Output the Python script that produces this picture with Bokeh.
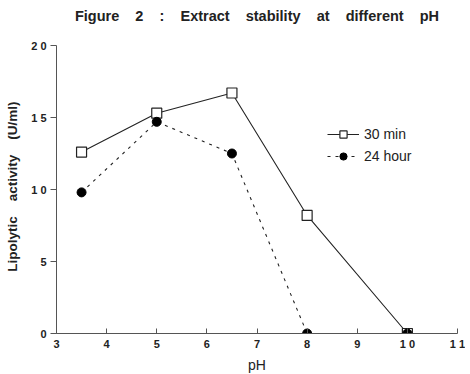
from bokeh.plotting import figure
from bokeh.models import Legend, LegendItem, FixedTicker, Range1d
from bokeh.embed import file_html
from bokeh.resources import INLINE

ph = [3.5, 5, 6.5, 8, 10]
min30 = [12.6, 15.3, 16.7, 8.2, 0]
hour24 = [9.8, 14.7, 12.5, 0, 0]

x_ticks = [3, 4, 5, 6, 7, 8, 9, 10, 11]
x_labels = ["3", "4", "5", "6", "7", "8", "9", "1 0", "1 1"]
y_ticks = [0, 5, 10, 15, 20]
y_labels = ["0", "5", "1 0", "1 5", "2 0"]

FONT = "Liberation Sans"
S3 = "\u00a0\u00a0\u00a0 "
TITLE = S3.join(["Figure", "2", ":", "Extract", "stability", "at", "different", "pH"])

# frame extends a little above the top of the y axis (axis drawn 0..20 only)
FRAME_H = 305
AXIS_H = 288
Y_TOP = 20 * FRAME_H / AXIS_H

p = figure(frame_width=401, frame_height=FRAME_H, output_backend="svg", toolbar_location=None,
           x_range=Range1d(3, 11), y_range=Range1d(0, Y_TOP), title=TITLE,
           min_border_left=56, min_border_right=8, min_border_top=28, min_border_bottom=39)
p.outline_line_color = None
p.xgrid.grid_line_color = None
p.ygrid.grid_line_color = None

p.title.align = "center"
p.title.text_font = FONT
p.title.text_font_size = "14.5px"
p.title.text_font_style = "bold"
p.title.text_color = "#222222"
p.title.standoff = 10

for ax in (p.xaxis, p.yaxis):
    ax.axis_line_color = "#555555"
    ax.major_tick_line_color = "#555555"
    ax.minor_tick_line_color = None
    ax.major_label_text_font = FONT
    ax.major_label_text_font_size = "11px"
    ax.major_label_text_font_style = "bold"
    ax.major_label_text_color = "#222222"
    ax.axis_label_text_font = FONT
    ax.axis_label_text_color = "#222222"
    ax.major_label_standoff = 4

p.xaxis.ticker = FixedTicker(ticks=x_ticks)
p.xaxis.major_label_overrides = {t: l for t, l in zip(x_ticks, x_labels)}
p.xaxis.major_tick_in = 5
p.xaxis.major_tick_out = 0
p.xaxis.axis_label = "pH"
p.xaxis.axis_label_text_font_size = "14px"
p.xaxis.axis_label_text_font_style = "normal"
p.xaxis.axis_label_standoff = 4

p.yaxis.bounds = (0, 20)
p.yaxis.ticker = FixedTicker(ticks=y_ticks)
p.yaxis.major_label_overrides = {t: l for t, l in zip(y_ticks, y_labels)}
p.yaxis.major_tick_in = 0
p.yaxis.major_tick_out = 6
p.yaxis.axis_label = S3.join(["Lipolytic", "activity", "(U/ml)"]) + "\u00a0\u00a0\u00a0"
p.yaxis.axis_label_text_font_size = "13.5px"
p.yaxis.axis_label_text_font_style = "bold"
p.yaxis.axis_label_standoff = 8

l1 = p.line(ph, min30, line_color="#222222", line_width=1.1)
s1 = p.scatter(ph, min30, marker="square", size=10, fill_color="white",
               line_color="#222222", line_width=1.2)
l2 = p.line(ph, hour24, line_color="#222222", line_width=1.1, line_dash="3 5")
s2 = p.scatter(ph, hour24, marker="circle", size=9, fill_color="black",
               line_color="black")

legend = Legend(items=[LegendItem(label="30 min", renderers=[l1, s1]),
                       LegendItem(label="24 hour", renderers=[l2, s2])],
                location=(271, 168), background_fill_alpha=0, border_line_color=None,
                label_text_font=FONT, label_text_font_size="14px",
                label_text_color="#222222", glyph_width=32, glyph_height=18,
                label_height=18, spacing=4, label_standoff=5)
p.add_layout(legend, "center")

open("out.html", "w").write(file_html(p, INLINE))
